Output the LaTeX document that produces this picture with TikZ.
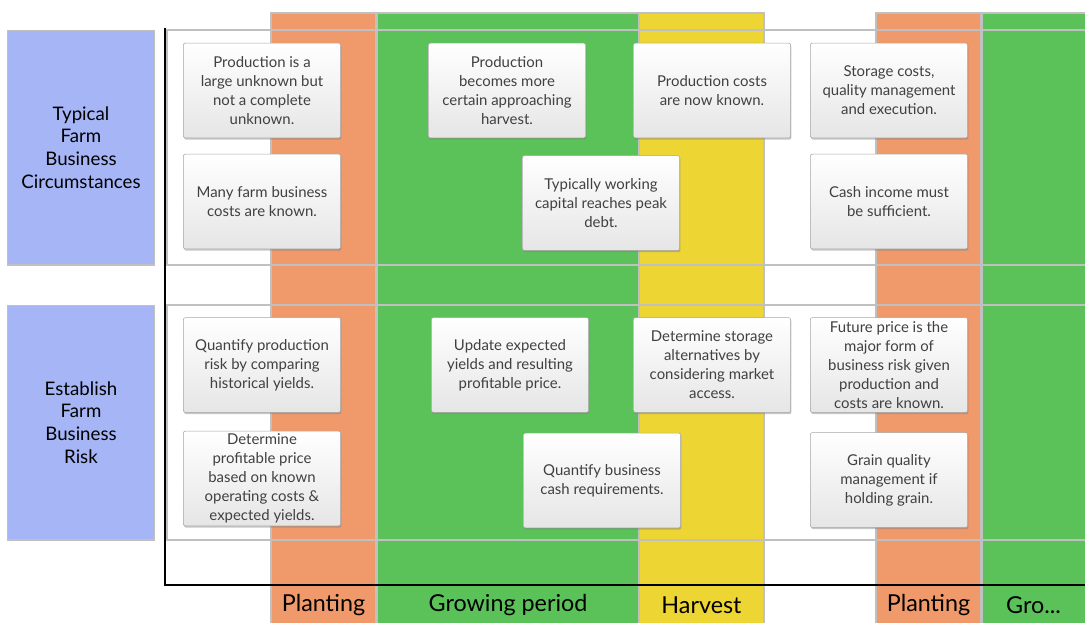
\documentclass[tikz,border=0pt]{standalone}
\usepackage{fontspec}
\setmainfont{Lato}
\usetikzlibrary{shadows}
\definecolor{semina}{HTML}{F09A6C}
\definecolor{crescita}{HTML}{5BC25A}
\definecolor{raccolto}{HTML}{EDD533}
\definecolor{etichetta}{HTML}{A5B5F5}
\definecolor{griglia}{HTML}{C0C0C0}
\definecolor{testo}{HTML}{404040}

\begin{document}
\begin{tikzpicture}[x=0.75pt,y=-0.75pt,
    griglia/.style={draw=griglia,line width=1.1pt},
    cella/.style={draw=gray!70,rounded corners=1.5pt,top color=white,
      bottom color=gray!20,minimum width=118pt,minimum height=71pt,
      inner sep=0pt,align=center,text=testo,
      font=\fontsize{11.2}{14.2}\selectfont,
      drop shadow={shadow xshift=0.6pt,shadow yshift=-1.4pt,opacity=0.45}},
    riga/.style={draw=griglia,line width=1pt,fill=etichetta,
      minimum width=110pt,minimum height=176pt,align=center,
      font=\fontsize{14}{17}\selectfont},
    fase/.style={font=\fontsize{17.5}{19}\selectfont}]
\useasboundingbox (0,0) rectangle (1085,622);
\pgfmathsetmacro{\ytop}{13}   % inizio delle fasce
\pgfmathsetmacro{\yasse}{585} % asse del tempo

% fasce delle fasi colturali
\foreach \xa/\xb/\col/\nome/\txt in {271/376/semina/pa/Planting,
    377/639/crescita/ga/Growing period,639/764/raccolto/ha/Harvest,
    876/981/semina/pb/Planting,982/1090/crescita/gb/{Gro{...}}}{
  \draw[griglia,line width=1.2pt,fill=\col] (\xa,\ytop) rectangle (\xb,625);
  \node[fase] (\nome) at ({(\xa+min(\xb,1085))/2},605) {\txt};
}

% righe della tabella
\draw[griglia] (1085,30) -| (167,265) -- (1085,265);
\draw[griglia] (1085,305) -| (167,540) -- (1085,540);
\draw[line width=1.5pt] (165,28) -- (165,\yasse) -- (1085,\yasse); % assi

\node[riga] (circ) at (81,147.5) {Typical\\Farm\\Business\\Circumstances};
\node[riga] (risk) at (81,422.5) {Establish\\Farm\\Business\\Risk};

% circostanze
\node[cella] (c1) at (262,90.5) {Production is a\\large unknown but\\not a complete\\unknown.};
\node[cella] (c2) at (262,201.5) {Many farm business\\costs are known.};
\node[cella] (c3) at (507,90.5) {Production\\becomes more\\certain approaching\\harvest.};
\node[cella] (c4) at (712,90.5) {Production costs\\are now known.};
\node[cella] (c5) at (601,203) {Typically working\\capital reaches peak\\debt.};
\node[cella] (c6) at (889,90.5) {Storage costs,\\quality management\\and execution.};
\node[cella] (c7) at (889,201.5) {Cash income must\\be sufficient.};

% rischio
\node[cella] (r1) at (262,365) {Quantify production\\risk by comparing\\historical yields.};
\node[cella] (r2) at (262,478.5) {Determine\\profitable price\\based on known\\operating costs \&\\expected yields.};
\node[cella] (r3) at (510,365) {Update expected\\yields and resulting\\profitable price.};
\node[cella] (r4) at (712,365) {Determine storage\\alternatives by\\considering market\\access.};
\node[cella] (r5) at (602,480.5) {Quantify business\\cash requirements.};
\node[cella] (r6) at (889,365) {Future price is the\\major form of\\business risk given\\production and\\costs are known.};
\node[cella] (r7) at (889,480) {Grain quality\\management if\\holding grain.};
\end{tikzpicture}
\end{document}
